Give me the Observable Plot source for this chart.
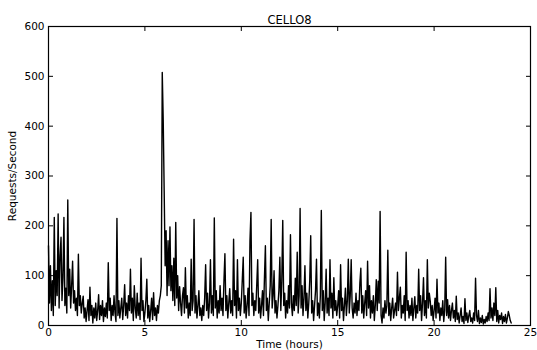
<!DOCTYPE html>
<html>
<head>
<meta charset="utf-8">
<script src="https://cdn.jsdelivr.net/npm/d3@7"></script>
<script src="https://cdn.jsdelivr.net/npm/@observablehq/plot@0.6"></script>
<style>
  html, body { margin: 0; padding: 0; background: #fff; }
  #chart svg { display: block; }
</style>
</head>
<body>
<div id="chart"></div>
<script>
const chartTitle = "CELLO8";
const xLabel = "Time (hours)";
const yLabel = "Requests/Second";
const xTicks = [0, 5, 10, 15, 20, 25];
const yTicks = [0, 100, 200, 300, 400, 500, 600];
const startHour = 0;
const stepHours = 0.05;
// requests per second, one row per hour (20 samples each)
const requests = [
  160,45,120,30,90,20,217,40,110,60,224,35,140,177,50,95,217,40,75,25,
  252,60,113,35,80,129,45,70,30,55,20,143,40,60,25,45,59,15,35,8,
  30,52,10,77,20,40,5,35,15,45,10,30,62,12,40,20,50,8,35,18,
  45,15,126,30,55,10,40,20,60,25,8,215,20,50,15,35,55,12,40,82,
  20,45,15,60,30,113,25,55,10,80,35,15,65,20,45,12,135,30,50,8,
  25,50,93,15,40,8,30,55,12,66,20,35,10,40,25,50,60,80,508,413,
  270,120,190,60,170,80,198,70,120,50,135,40,207,55,100,30,78,45,20,60,
  76,25,116,35,60,15,45,20,133,30,50,213,25,60,15,40,70,20,35,10,
  40,20,55,122,30,65,15,45,132,25,60,20,216,35,70,15,50,25,80,30,
  55,20,90,144,30,60,15,45,74,25,50,20,173,40,70,15,132,30,55,20,
  45,90,137,25,60,15,40,75,20,170,227,40,65,20,50,30,80,132,25,55,
  15,40,70,20,95,160,30,55,10,45,80,213,35,60,110,25,50,15,40,70,
  137,30,90,211,40,65,15,50,25,80,35,182,45,20,60,30,95,40,147,25,
  60,235,35,80,20,55,120,30,65,15,45,90,180,25,50,10,40,70,133,20,
  45,15,60,231,30,70,10,45,113,25,55,20,132,35,65,15,96,30,50,20,
  40,70,15,122,30,55,10,40,75,20,50,133,25,60,132,35,15,45,25,65,
  20,50,30,85,115,25,60,15,45,70,20,129,35,80,15,50,25,60,10,40,
  92,30,89,45,229,20,5,35,15,50,25,40,151,20,45,10,35,55,15,30,
  45,20,107,30,55,77,15,40,25,60,10,147,30,50,15,40,20,55,10,35,
  58,15,40,25,113,30,60,10,45,96,20,50,15,132,35,65,49,20,40,10,
  30,55,15,93,25,45,10,35,20,50,8,30,137,20,52,15,40,10,30,45,
  15,30,8,59,12,25,5,20,35,8,18,4,54,10,25,6,20,30,8,15,
  5,25,10,95,20,8,30,4,15,6,20,3,12,5,18,8,25,10,74,15,
  35,10,45,20,76,8,30,5,20,12,25,4,18,8,22,5,15,28,20,10,
  5
];

const data = requests.map((v, i) => ({ t: startHour + i * stepHours, v }));

const font = "DejaVu Sans, Liberation Sans, Arial, sans-serif";

const chart = Plot.plot({
  width: 537,
  height: 350,
  marginLeft: 48,
  marginRight: 7,
  marginTop: 26,
  marginBottom: 25,
  style: { fontFamily: font, fontSize: "10.5px", color: "black", background: "white", overflow: "visible" },
  x: { domain: [0, 25] },
  y: { domain: [0, 600] },
  marks: [
    Plot.line(data, { x: "t", y: "v", stroke: "black", strokeWidth: 1.4 }),
    Plot.frame({ stroke: "black", strokeWidth: 1.2 }),
    Plot.axisX({ anchor: "bottom", ticks: xTicks, tickSize: -5, tickPadding: 8, label: xLabel, labelAnchor: "center", labelOffset: 22, labelArrow: false }),
    Plot.axisX({ anchor: "top", ticks: xTicks, tickSize: -4, tickFormat: () => "", label: null }),
    Plot.axisY({ anchor: "left", ticks: yTicks, tickSize: -5, tickPadding: 9, label: yLabel, labelAnchor: "center", labelOffset: 40, labelArrow: false }),
    Plot.axisY({ anchor: "right", ticks: yTicks, tickSize: -5, tickFormat: () => "", label: null }),
    Plot.text([chartTitle], { text: d => d, frameAnchor: "top", dy: -11, fontSize: 11.5, fill: "black" })
  ]
});
document.getElementById("chart").appendChild(chart);
</script>
</body>
</html>
